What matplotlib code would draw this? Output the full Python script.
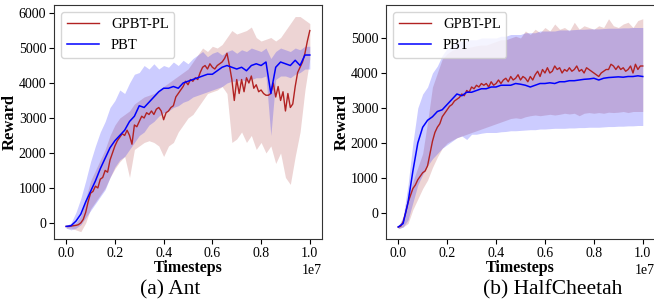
import numpy as np
import matplotlib
matplotlib.use("Agg")
import matplotlib.pyplot as plt

plt.rcParams["font.family"] = ["Liberation Serif", "DejaVu Serif"]
plt.rcParams["mathtext.fontset"] = "stix"

# ----------------------------------
# Data (timesteps in units of 1e7)
# ----------------------------------

t_fine = np.round(np.arange(0, 1.0001, 0.01), 2) * 1e7
t_coarse = np.round(np.arange(0, 1.0001, 0.02), 2) * 1e7

# Ant
ant_gpbt_mean = [
    -100, -100, -90, -80, -70, -50, 0, 100, 300, 600,
    850, 900, 1050, 1000, 1250, 1300, 1500, 1450, 1800, 2000,
    2200, 2350, 2450, 2550, 2500, 2650, 2500, 2250, 2800, 2750,
    2900, 3050, 3000, 3150, 3100, 3200, 3100, 3250, 3300, 3200,
    2950, 3150, 3200, 3300, 3350, 3600, 3700, 3800, 3900, 4050,
    3950, 4100, 4050, 4150, 4100, 4300, 4450, 4500, 4400, 4550,
    4450, 4400, 4500, 4550, 4600, 4700, 4850, 4500, 4100, 3500,
    4100, 3700, 4100, 3750, 4150, 4000, 4200, 3850, 3950, 3750,
    3800, 3700, 3650, 3650, 3700, 4000, 3600, 3900, 3500, 3750,
    3200, 3700, 3300, 3400, 3900, 4300, 4450, 4600, 4850, 5200,
    5500,
]
ant_gpbt_upper = [
    -80, -50, 0, 200, 700, 1200, 1500, 1800, 2100, 2500,
    2800, 3000, 3100, 3200, 3400, 3500, 3600, 3650, 3700, 3800,
    3900, 4000, 4100, 4200, 4300, 4400, 4600, 4800, 5000, 4900,
    5050, 5000, 5100, 5300, 5500, 5400, 5450, 5500, 5600, 5300,
    5200, 5250, 5300, 5200, 5300, 5500, 5700, 5900, 5900, 5800,
    5700,
]
ant_gpbt_lower = [
    -150, -150, -200, -250, 0, 400, 600, 800, 1000, 1300,
    1550, 1750, 1900, 1300, 2100, 2200, 2300, 2350, 2300, 2200,
    1900, 2200, 2300, 2600, 2800, 3000, 3100, 3300, 3500, 3700,
    3750, 3800, 3900, 3700, 2300, 2400, 2600, 2300, 2500, 2100,
    2300, 2000, 2200, 1700, 2000, 1300, 1100, 1900, 2600, 3800,
    4700,
]
ant_pbt_mean = [
    -100, -80, 50, 250, 600, 900, 1200, 1550, 1850, 2150,
    2350, 2500, 2650, 2900, 3050, 3350, 3300, 3450, 3600, 3750,
    3850, 3850, 3900, 3850, 4000, 4050, 4100, 4150, 4200, 4250,
    4250, 4350, 4450, 4500, 4450, 4400, 4450, 4350, 4500, 4550,
    4500, 4600, 3700, 4450, 4600, 4550, 4500, 4650, 4500, 4800,
    4800,
]
ant_pbt_upper = [
    -80, 0, 300, 700, 1200, 1750, 2200, 2600, 2900, 3300,
    3500, 3800, 3700, 4000, 4250, 4300, 4500, 4400, 4550, 4400,
    4500, 4450, 4600, 4500, 4650, 4550, 4700, 4800, 4900, 4750,
    4850, 4900, 4800, 4900, 4950, 4850, 4950, 4900, 5000, 4950,
    4900, 5000, 4700, 4900, 5000, 4950, 4900, 5000, 4950, 5050,
    5050,
]
ant_pbt_lower = [
    -150, -200, -150, -50, 150, 350, 550, 750, 950, 1300,
    1600, 1800, 1900, 2100, 2300, 2500, 2600, 2800, 2900, 3050,
    3150, 3200, 3300, 3350, 3450, 3500, 3600, 3650, 3700, 3750,
    3800, 3850, 3900, 4000, 4050, 4050, 4100, 4050, 4100, 4150,
    4150, 4200, 2500, 4100, 4200, 4200, 4150, 4250, 4300, 4400,
    4400,
]

# HalfCheetah
hc_gpbt_mean = [
    -400, -380, -250, 0, 300, 500, 700, 800, 950, 1050,
    1150, 1200, 1350, 1700, 2050, 2300, 2450, 2550, 2750, 2850,
    2950, 3050, 3100, 3200, 3250, 3300, 3400, 3350, 3500, 3450,
    3600, 3550, 3650, 3600, 3700, 3650, 3700, 3600, 3750, 3650,
    3700, 3800, 3700, 3800, 3850, 3750, 3900, 3800, 3850, 3950,
    3800, 3900, 3850, 3750, 3900, 3800, 3950, 4050, 3900, 4100,
    4000, 4150, 4000, 4050, 4200, 4100, 4150, 4000, 4100, 4050,
    4150, 4050, 4100, 4200, 4050, 4100, 4000, 4150, 4100, 4050,
    4000, 3950, 3900, 4000, 4050, 4100, 4100, 4250, 4200, 4100,
    4200, 4100, 4150, 4050, 4100, 4200, 4000, 4250, 4100, 4200,
    4200,
]
hc_gpbt_upper = [
    -400, -200, 400, 900, 1300, 1700, 2600, 3600, 4000, 4400,
    4550, 4650, 4700, 4700, 4720, 4750, 4780, 4800, 4800, 4850,
    4900, 4950, 4950, 5000, 5050, 5000, 5200, 5100, 5250, 5150,
    5300, 5200, 5400, 5250, 5300, 5200, 5450, 5250, 5350, 5300,
    5250, 5350, 5300, 5550, 5350, 5300, 5400, 5450, 5300, 5500,
    5550,
]
hc_gpbt_lower = [
    -450, -400, -300, 100, 400, 700, 940, 1300, 1600, 1850,
    2000, 2080, 2150, 2200, 2250, 2300, 2350, 2400, 2450, 2500,
    2550, 2600, 2650, 2700, 2720, 2700, 2750, 2780, 2800, 2780,
    2800, 2820, 2800, 2820, 2850, 2830, 2850, 2780, 2850, 2870,
    2850, 2870, 2850, 2880, 2870, 2880, 2900, 2870, 2900, 2900,
    2900,
]
hc_pbt_mean = [
    -400, -300, 300, 1200, 2000, 2450, 2650, 2750, 2900, 2950,
    3100, 3250, 3400, 3350, 3450, 3450, 3500, 3550, 3550, 3600,
    3600, 3650, 3650, 3650, 3700, 3680, 3650, 3600, 3650, 3700,
    3700, 3720, 3700, 3750, 3750, 3780, 3780, 3800, 3820, 3830,
    3850, 3800, 3850, 3870, 3880, 3890, 3880, 3900, 3900, 3920,
    3900,
]
hc_pbt_upper = [
    -380, -100, 800, 2000, 3000, 3400, 3600, 4000, 4200, 4500,
    4700, 4800, 4900, 4900, 4950, 4950, 4950, 5000, 5000, 5000,
    5000, 5050, 5050, 5100, 5100, 5100, 5150, 5150, 5150, 5200,
    5200, 5200, 5200, 5230, 5230, 5230, 5240, 5250, 5250, 5260,
    5260, 5260, 5270, 5280, 5280, 5280, 5290, 5290, 5300, 5300,
    5300,
]
hc_pbt_lower = [
    -450, -400, -200, 300, 800, 1100, 1350, 1550, 1700, 1850,
    1950, 2050, 2150, 2200, 2100, 2250, 2250, 2280, 2300, 2300,
    2300, 2320, 2330, 2350, 2350, 2360, 2370, 2380, 2380, 2400,
    2400, 2410, 2420, 2420, 2420, 2430, 2430, 2440, 2440, 2450,
    2450, 2450, 2460, 2470, 2470, 2480, 2480, 2490, 2490, 2500,
    2500,
]

panels = [
    ("(a) Ant", ant_gpbt_mean, ant_gpbt_upper, ant_gpbt_lower,
     ant_pbt_mean, ant_pbt_upper, ant_pbt_lower, (-460, 6230)),
    ("(b) HalfCheetah", hc_gpbt_mean, hc_gpbt_upper, hc_gpbt_lower,
     hc_pbt_mean, hc_pbt_upper, hc_pbt_lower, (-743, 5943)),
]

RED = "#b22222"
BAND_RED = "brown"
BLUE = "blue"

fig = plt.figure(figsize=(6.54, 3.07), dpi=100)

axes_pos = [
    [54 / 654, 68 / 307, 268 / 654, 234 / 307],
    [386 / 654, 68 / 307, 269 / 654, 234 / 307],
]
caption_x = [170 / 654, 553 / 654]

for pos, cx, panel in zip(axes_pos, caption_x, panels):
    caption, g_mean, g_up, g_lo, p_mean, p_up, p_lo, ylim = panel
    ax = fig.add_axes(pos)

    ax.fill_between(t_coarse, g_lo, g_up, color=BAND_RED, alpha=0.2, lw=0)
    ax.fill_between(t_coarse, p_lo, p_up, color=BLUE, alpha=0.2, lw=0)
    ax.plot(t_fine, g_mean, color=RED, lw=1.0, label="GPBT-PL")
    ax.plot(t_coarse, p_mean, color=BLUE, lw=1.1, label="PBT")

    ax.set_xlim(-0.05e7, 1.05e7)
    ax.set_ylim(*ylim)
    ax.set_xticks([0, 0.2e7, 0.4e7, 0.6e7, 0.8e7, 1.0e7])
    ax.tick_params(labelsize=10, length=3.5, pad=2)
    ax.xaxis.get_offset_text().set_fontsize(10)

    ax.set_xlabel("Timesteps", fontsize=11.5, fontweight="bold", labelpad=0)
    ax.set_ylabel("Reward", fontsize=12, fontweight="bold", labelpad=1)

    for s in ax.spines.values():
        s.set_color("#333333")

    ax.legend(loc="upper left", fontsize=10.5, handlelength=2.2,
              borderaxespad=0.5, fancybox=True)

    fig.text(cx, 1 - 290 / 307, caption, fontsize=15.5,
             ha="center", va="center")

fig.savefig("out.png", dpi=100)
